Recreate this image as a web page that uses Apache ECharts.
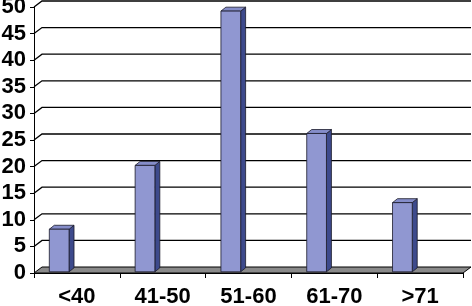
<!DOCTYPE html>
<html><head><meta charset="utf-8">
<script src="https://cdn.jsdelivr.net/npm/echarts@6/dist/echarts.min.js"></script>
<style>html,body{margin:0;padding:0;background:#fff}#c{width:472px;height:306px}</style>
</head><body><div id="c"></div>
<script>
const categories = ['<40', '41-50', '51-60', '61-70', '>71'];
const values = [8, 20, 49, 26, 13];
const yTicks = [0, 5, 10, 15, 20, 25, 30, 35, 40, 45, 50];

const DX = 8, DY = -6; // wall depth offset
const FONT = 'Arial, "Liberation Sans", sans-serif';

const chart = echarts.init(document.getElementById('c'), null, {renderer: 'canvas'});

function wallItem(params, api) {
  const cs = params.coordSys;
  const v = api.value(0);
  const y = api.coord([0, v])[1];
  const x0 = cs.x, x1 = cs.x + cs.width;
  const children = [];
  if (v === 0) {
    children.push({
      type: 'polygon',
      shape: {points: [[x0, y], [x1, y], [x1 + DX, y + DY], [x0 + DX, y + DY]]},
      style: {fill: '#8a8a8a', stroke: '#000', lineWidth: 1}
    });
  } else {
    children.push({
      type: 'polyline',
      shape: {points: [[x0, y], [x0 + DX, y + DY], [x1 + DX, y + DY]]},
      style: {stroke: '#000', lineWidth: 1.3, fill: null}
    });
  }
  return {type: 'group', children};
}

function barItem(params, api) {
  const i = api.value(0);
  const v = api.value(1);
  const bw = api.size([1, 0])[0];
  const c = api.coord([i, v]);
  const b = api.coord([i, 0]);
  const d1x = DX * 0.2, d1y = DY * 0.2;
  const bdx = DX * 0.62, bdy = DY * 0.66;
  const left = c[0] - bw / 2 + 0.16 * bw + d1x;
  const w = 0.23 * bw;
  const top = c[1] + d1y, bot = b[1] + d1y;
  const st = {stroke: '#1a1a2a', lineWidth: 0.8};
  return {type: 'group', children: [
    {type: 'polygon', shape: {points: [[left + w, top], [left + w + bdx, top + bdy], [left + w + bdx, bot + bdy], [left + w, bot]]},
     style: Object.assign({fill: '#3d4a8c'}, st)},
    {type: 'polygon', shape: {points: [[left, top], [left + bdx, top + bdy], [left + w + bdx, top + bdy], [left + w, top]]},
     style: Object.assign({fill: '#858dc9'}, st)},
    {type: 'rect', shape: {x: left, y: top, width: w, height: bot - top},
     style: Object.assign({fill: '#9097d1'}, st)}
  ]};
}

chart.setOption({
  animation: false,
  grid: {left: 34, right: 9, top: 7, bottom: 33, containLabel: false, outerBoundsMode: 'none'},
  xAxis: {
    type: 'category', data: categories,
    axisLine: {show: true, lineStyle: {color: '#000', width: 1}},
    axisTick: {show: true, length: 5, lineStyle: {color: '#000'}},
    axisLabel: {color: '#000', fontFamily: FONT, fontWeight: 'bold', fontSize: 22, margin: 13},
    splitLine: {show: false}
  },
  yAxis: {
    type: 'value', min: 0, max: 50, interval: 5,
    axisLine: {show: true, lineStyle: {color: '#000', width: 1}},
    axisTick: {show: true, length: 4, lineStyle: {color: '#000'}},
    axisLabel: {color: '#000', fontFamily: FONT, fontWeight: 'bold', fontSize: 22, margin: 8},
    splitLine: {show: false}
  },
  series: [
    {type: 'custom', renderItem: wallItem, data: yTicks.map(v => [v]), encode: {y: 0}, z: 1, silent: true, clip: false},
    {type: 'custom', renderItem: barItem, data: values.map((v, i) => [i, v]), encode: {x: 0, y: 1}, z: 3, clip: false}
  ]
});
</script></body></html>
